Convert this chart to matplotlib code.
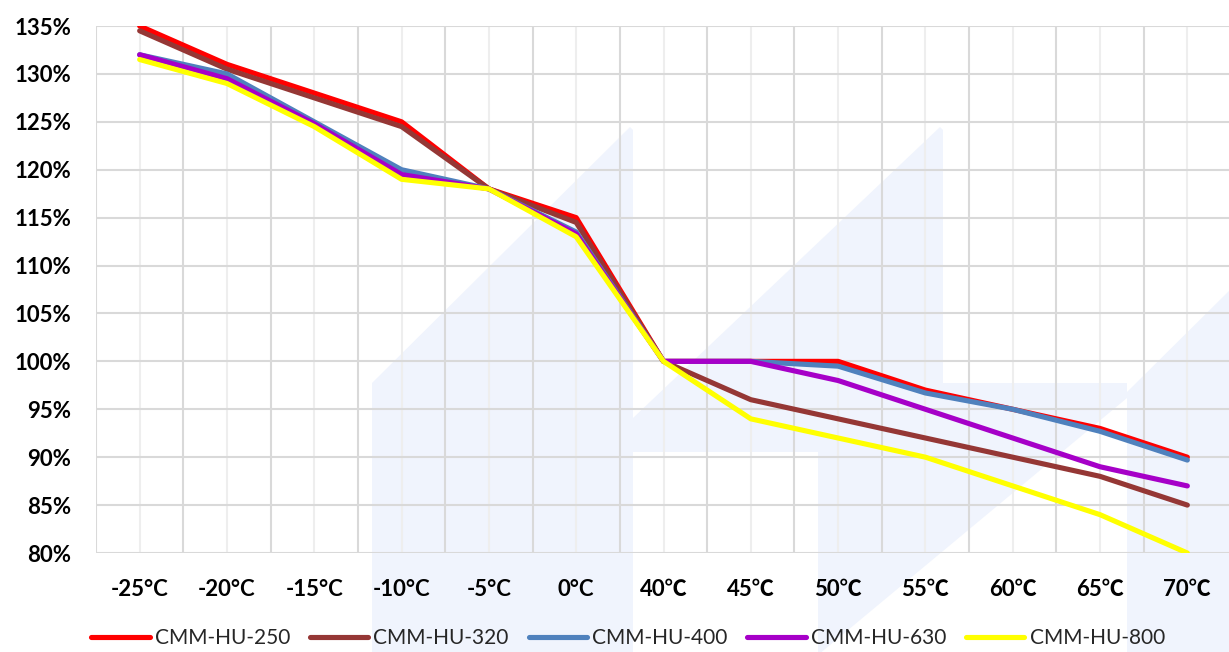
import matplotlib
matplotlib.use('Agg')
import matplotlib.pyplot as plt
from matplotlib.patches import Polygon
from matplotlib.ticker import FuncFormatter

FONT = ['Lato', 'Noto Sans CJK SC', 'DejaVu Sans']
plt.rcParams['font.family'] = FONT

temps = ['-25°C', '-20°C', '-15°C', '-10°C', '-5°C', '0°C', '40℃',
         '45℃', '50℃', '55℃', '60℃', '65℃', '70℃']

series_names = ['CMM-HU-250', 'CMM-HU-320', 'CMM-HU-400', 'CMM-HU-630', 'CMM-HU-800']
hu250 = [135, 131, 128, 125, 118, 115, 100, 100, 100, 97, 95, 93, 90]
hu320 = [134.5, 130.5, 127.5, 124.5, 118, 114.5, 100, 96, 94, 92, 90, 88, 85]
hu400 = [132, 130, 125, 120, 118, 113.5, 100, 100, 99.5, 96.7, 95, 92.7, 89.7]
hu630 = [132, 129.5, 124.8, 119.5, 118, 113.3, 100, 100, 98, 95, 92, 89, 87]
hu800 = [131.5, 129, 124.5, 119, 118, 113, 100, 94, 92, 90, 87, 84, 80]
colors = ['#ff0000', '#953735', '#4f81bd', '#a600c8', '#ffff00']

W, H = 1229, 652
fig = plt.figure(figsize=(W / 100, H / 100), dpi=100)
fig.patch.set_facecolor('white')


def px(pts):
    return [(x / W, 1 - y / H) for x, y in pts]


# faint logo watermark behind the chart
wm = '#f0f4fd'
shapes = [
    [(372, 660), (372, 383), (630, 127), (633, 130), (633, 660)],
    [(633, 452), (633, 418), (940, 127), (943, 130), (943, 383), (1127, 383),
     (1127, 398), (818, 655), (818, 452)],
    [(1127, 660), (1127, 392), (1235, 285), (1235, 660)],
]
for s in shapes:
    fig.add_artist(Polygon(px(s), closed=True, facecolor=wm, edgecolor='none',
                           transform=fig.transFigure, zorder=-5))

ax = fig.add_axes([96 / W, 1 - 553 / H, (1231 - 96) / W, (553 - 26) / H])
ax.set_facecolor('none')

x = list(range(len(temps)))
for name, vals, c in zip(series_names, [hu250, hu320, hu400, hu630, hu800], colors):
    ax.plot(x, vals, color=c, lw=3.7, solid_capstyle='round', solid_joinstyle='round',
            label=name, zorder=3)

ax.set_xlim(-0.5, len(temps) - 0.5)
ax.set_ylim(80, 135)
ax.set_yticks(range(80, 136, 5))
ax.yaxis.set_major_formatter(FuncFormatter(lambda v, p: f'{int(v)}%'))
ax.set_xticks(x)
ax.set_xticklabels(temps)

# grid: darker lines on category boundaries, lighter on category centres
for i in range(len(temps) + 1):
    ax.axvline(i - 0.5, color='#d9d9d9', lw=1.5, zorder=1)
for i in x:
    ax.axvline(i, color='#eeeeee', lw=1.5, zorder=1)
for v in range(80, 136, 5):
    ax.axhline(v, color='#d9d9d9', lw=1.5, zorder=1)

for sp in ax.spines.values():
    sp.set_visible(False)
ax.tick_params(length=0)
ax.tick_params(axis='y', pad=18)
ax.tick_params(axis='x', pad=19)
for lab in ax.get_xticklabels() + ax.get_yticklabels():
    lab.set_fontweight('bold')
    lab.set_fontsize(16)
    lab.set_family(FONT)

leg = fig.legend(loc='center', bbox_to_anchor=(0.511, 1 - 638 / H), ncol=5, frameon=False,
                 handlelength=2.8, handletextpad=0.25, columnspacing=0.95,
                 prop={'family': FONT, 'size': 15})
for t in leg.get_texts():
    t.set_color('#262626')

fig.savefig('out.png', dpi=100)
